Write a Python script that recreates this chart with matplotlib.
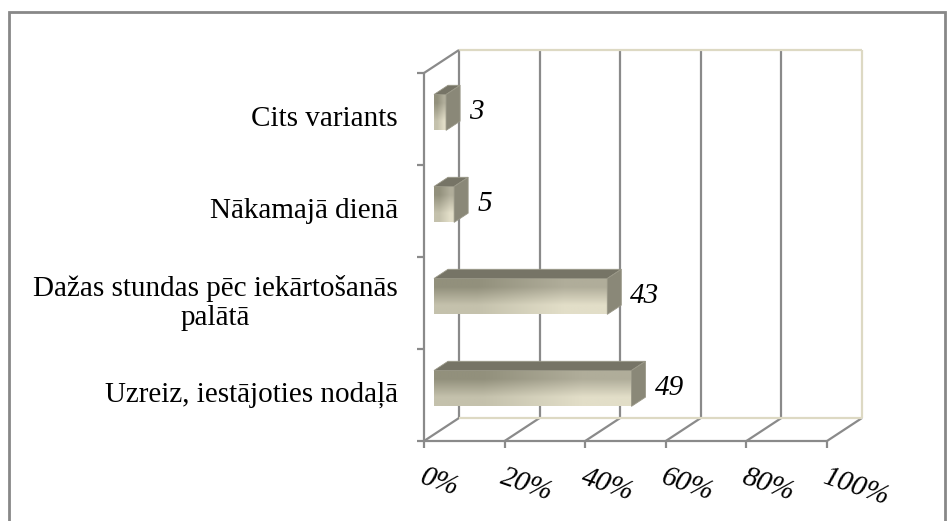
import numpy as np
import matplotlib.pyplot as plt
from matplotlib.patches import Polygon, Rectangle
from matplotlib.transforms import IdentityTransform

categories = ['Uzreiz, iestājoties nodaļā',
              'Dažas stundas pēc iekārtošanās\npalātā',
              'Nākamajā dienā',
              'Cits variants']
values = [49, 43, 5, 3]
xticks = [0, 20, 40, 60, 80, 100]
xticklabels = ['0%', '20%', '40%', '60%', '80%', '100%']

plt.rcParams['font.family'] = ['Liberation Serif', 'DejaVu Serif']

fig = plt.figure(figsize=(9.51, 5.21), dpi=100)
ax = fig.add_axes([424 / 951, 80 / 521, 403 / 951, 368 / 521])
ax.set_autoscale_on(False)
ax.set_xlim(0, 100)
ax.set_ylim(-0.5, len(categories) - 0.5)
ax.axis('off')

ident = IdentityTransform()
depth = np.array([35.0, 23.0])   # pixel shift of the back wall
gray = '#8a8a8a'
beige = '#ddd9c3'
fs = 21


def P(x, y, d=0.0):
    # data point -> display pixels, pushed back by d (0 front, 1 back wall)
    return ax.transData.transform((x, y)) + d * depth


def line(a, b, color=gray, lw=1.6):
    ax.plot([a[0], b[0]], [a[1], b[1]], color=color, lw=lw,
            transform=ident, clip_on=False, solid_capstyle='butt')


ylo, yhi = -0.5, len(categories) - 0.5

# back wall and floor
for x in xticks:
    c = beige if x == 100 else gray
    line(P(x, ylo, 1), P(x, yhi, 1), c)
    line(P(x, ylo, 0), P(x, ylo, 1), gray)
line(P(0, yhi, 1), P(100, yhi, 1), beige)
line(P(0, ylo, 1), P(100, ylo, 1), beige)
line(P(0, yhi, 0), P(0, yhi, 1), gray)

# front axes
line(P(0, ylo), P(0, yhi))
line(P(0, ylo), P(100, ylo))
for i in range(len(categories) + 1):
    p = P(0, ylo + i)
    line(p - [7, 0], p)
for x, lab in zip(xticks, xticklabels):
    p = P(x, ylo)
    line(p, p - [0, 7])
    ax.text(p[0] + 1, p[1] - 23, lab, transform=ident, fontsize=fs,
            style='italic', ha='left', va='top', rotation=-19,
            rotation_mode='anchor', color='black')

# category labels
for i, cat in enumerate(categories):
    p = P(0, i)
    ax.text(p[0] - 26, p[1], cat, transform=ident, fontsize=fs,
            ha='right', va='center', multialignment='center', linespacing=1.15)

# 3D bars
d0, d1 = 10 / 35, 24 / 35
hw = 0.195
front_grad = np.array([[[146, 144, 124], [176, 173, 154]],
                       [[196, 193, 172], [226, 222, 200]]]) / 255
for i, v in enumerate(values):
    bl = P(0, i - hw, d0)
    tr = P(v, i + hw, d0)
    ax.imshow(front_grad, extent=(bl[0], tr[0], bl[1], tr[1]),
              transform=ident, aspect='auto', interpolation='bilinear',
              clip_on=False, zorder=3)
    top = [P(0, i + hw, d0), P(v, i + hw, d0), P(v, i + hw, d1), P(0, i + hw, d1)]
    ax.add_patch(Polygon(top, closed=True, transform=ident, clip_on=False,
                         facecolor='#767466', edgecolor='#9a9888', lw=0.6, zorder=3))
    side = [P(v, i - hw, d0), P(v, i + hw, d0), P(v, i + hw, d1), P(v, i - hw, d1)]
    ax.add_patch(Polygon(side, closed=True, transform=ident, clip_on=False,
                         facecolor='#8a8878', edgecolor='#9a9888', lw=0.6, zorder=3))
    lp = P(v, i, d0)
    lx = P(v, i, d1)[0] + 9
    ax.text(lx, lp[1], str(v), transform=ident, fontsize=fs, style='italic',
            ha='left', va='center', zorder=4)

# outer frame
fig.add_artist(Rectangle((9 / 951, -0.05), 936 / 951, (521 - 12) / 521 + 0.05,
                         transform=fig.transFigure, fill=False,
                         edgecolor='#888888', lw=2))

fig.savefig('out.png', dpi=100)
